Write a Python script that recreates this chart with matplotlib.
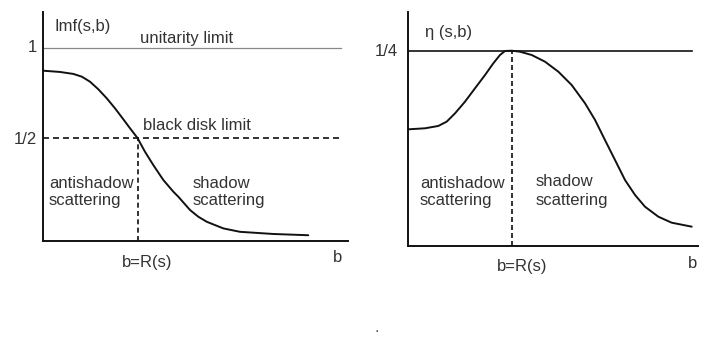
import matplotlib
matplotlib.use("Agg")
import matplotlib.pyplot as plt

plt.rcParams['font.family'] = ['Liberation Sans', 'DejaVu Sans']

# Left panel: Im f(s,b) versus b (b in units of R(s))
b_left = [0.0, 0.180, 0.321, 0.410, 0.497, 0.585, 0.674, 0.762, 0.850, 0.921,
          1.0, 1.079, 1.167, 1.273, 1.379, 1.432, 1.556, 1.643, 1.732, 1.908,
          2.085, 2.437, 2.807]
imf = [0.874, 0.867, 0.856, 0.841, 0.813, 0.771, 0.721, 0.665, 0.604, 0.554,
       0.5, 0.424, 0.350, 0.267, 0.202, 0.174, 0.100, 0.063, 0.035, -0.002,
       -0.021, -0.033, -0.040]
unitarity = 1.0
black_disk = 0.5
left_ticks = ["1", "1/2"]

# Right panel: eta(s,b) versus b
b_right = [0.0, 0.161, 0.290, 0.371, 0.452, 0.548, 0.645, 0.742, 0.822, 0.887,
           0.935, 1.0, 1.080, 1.193, 1.322, 1.451, 1.580, 1.709, 1.806, 1.902,
           1.999, 2.096, 2.193, 2.289, 2.418, 2.547, 2.741]
eta = [0.1492, 0.1505, 0.1535, 0.1590, 0.1697, 0.1846, 0.2018, 0.2188, 0.2338,
       0.2445, 0.2496, 0.25, 0.2487, 0.2445, 0.2359, 0.2231, 0.2060, 0.1826,
       0.1612, 0.1355, 0.1099, 0.0842, 0.0650, 0.0500, 0.0372, 0.0295, 0.0244]
eta_max = 0.25
right_ticks = ["1/4"]

W, H = 727, 345
fig = plt.figure(figsize=(W / 100, H / 100), dpi=100)

def fx(px):
    return px / W

def fy(py):
    return 1 - py / H

TXT = '#333333'
FS = 12

# ---------- left axes ----------
axL = fig.add_axes([fx(43), fy(241), (348 - 43) / W, (241 - 12) / H])
axL.set_xlim(0, 305 / 94.5)
axL.set_ylim(-0.072, 1.2)
for s in ['top', 'right']:
    axL.spines[s].set_visible(False)
for s in ['left', 'bottom']:
    axL.spines[s].set_linewidth(1.4)
    axL.spines[s].set_color('#111111')
axL.set_xticks([])
axL.set_yticks([])
axL.patch.set_alpha(0)

axL.plot([0, 3.153], [unitarity, unitarity], color='#888888', lw=0.9)
axL.plot([0, 3.14], [black_disk, black_disk], color='#111111', lw=1.2,
         linestyle=(0, (3.6, 2.4)))
axL.plot([1.0, 1.0], [-0.072, black_disk], color='#111111', lw=1.2,
         linestyle=(0, (3.0, 2.0)))
axL.plot(b_left, imf, color='#111111', lw=1.4, solid_capstyle='round',
         solid_joinstyle='round')

fig.text(fx(55), fy(26), "Imf(s,b)", fontsize=FS, color=TXT, ha='left', va='center')
fig.text(fx(37), fy(48), left_ticks[0], fontsize=FS, color=TXT, ha='right', va='center')
fig.text(fx(37), fy(139), left_ticks[1], fontsize=FS, color=TXT, ha='right', va='center')
fig.text(fx(140), fy(39), "unitarity limit", fontsize=FS, color=TXT, ha='left', va='center')
fig.text(fx(143), fy(126), "black disk limit", fontsize=FS, color=TXT, ha='left', va='center')
fig.text(fx(49), fy(184), "antishadow", fontsize=FS, color=TXT, ha='left', va='center')
fig.text(fx(49), fy(201), "scattering", fontsize=FS, color=TXT, ha='left', va='center')
fig.text(fx(193), fy(183), "shadow", fontsize=FS, color=TXT, ha='left', va='center')
fig.text(fx(193), fy(200), "scattering", fontsize=FS, color=TXT, ha='left', va='center')
fig.text(fx(147), fy(262), "b=R(s)", fontsize=FS, color=TXT, ha='center', va='center')
fig.text(fx(338), fy(257), "b", fontsize=FS, color=TXT, ha='center', va='center')

# ---------- right axes ----------
axR = fig.add_axes([fx(408.3), fy(245.7), (697.7 - 408.3) / W, (245.7 - 12) / H])
axR.set_xlim(0, (697.7 - 408.3) / 103.4)
axR.set_ylim(0, 0.2996)
for s in ['top', 'right']:
    axR.spines[s].set_visible(False)
for s in ['left', 'bottom']:
    axR.spines[s].set_linewidth(1.4)
    axR.spines[s].set_color('#111111')
axR.set_xticks([])
axR.set_yticks([])
axR.patch.set_alpha(0)

axR.plot([0, 2.741], [eta_max, eta_max], color='#111111', lw=1.2)
axR.plot([1.0, 1.0], [0, eta_max], color='#111111', lw=1.2,
         linestyle=(0, (3.0, 1.8)))
axR.plot(b_right, eta, color='#111111', lw=1.4, solid_capstyle='round',
         solid_joinstyle='round')

fig.text(fx(425), fy(32), "\u03b7 (s,b)", fontsize=FS, color=TXT, ha='left', va='center')
fig.text(fx(398), fy(51), right_ticks[0], fontsize=FS, color=TXT, ha='right', va='center')
fig.text(fx(420), fy(183), "antishadow", fontsize=FS, color=TXT, ha='left', va='center')
fig.text(fx(420), fy(201), "scattering", fontsize=FS, color=TXT, ha='left', va='center')
fig.text(fx(536), fy(182), "shadow", fontsize=FS, color=TXT, ha='left', va='center')
fig.text(fx(536), fy(200), "scattering", fontsize=FS, color=TXT, ha='left', va='center')
fig.text(fx(522), fy(267), "b=R(s)", fontsize=FS, color=TXT, ha='center', va='center')
fig.text(fx(693), fy(263), "b", fontsize=FS, color=TXT, ha='center', va='center')

fig.text(fx(377), fy(327), ".", fontsize=FS, color='#555555', ha='center', va='center')

fig.savefig("out.png", dpi=100)
